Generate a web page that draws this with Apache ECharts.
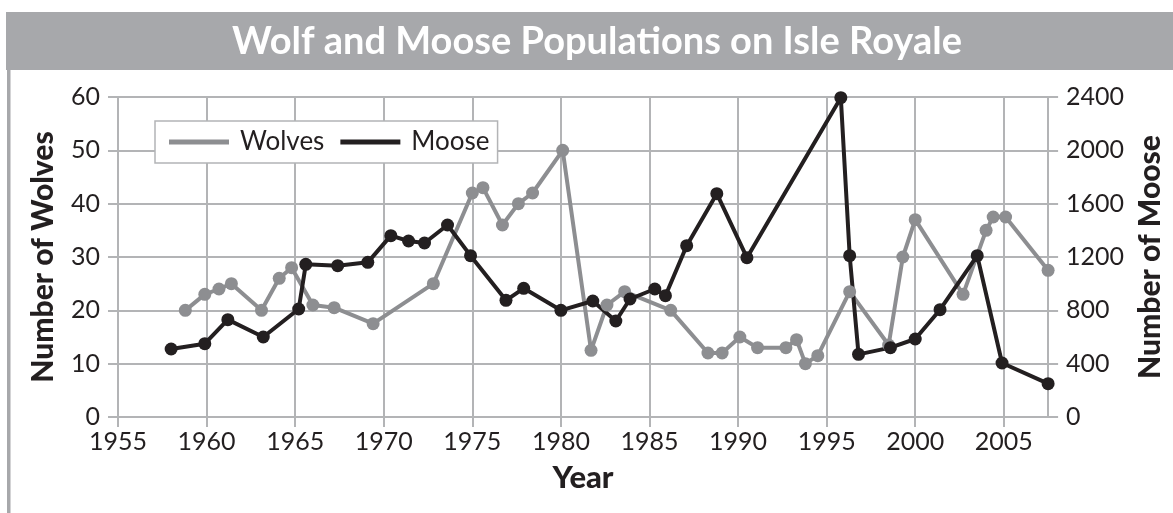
<!DOCTYPE html>
<html>
<head>
<meta charset="utf-8">
<script src="https://cdn.jsdelivr.net/npm/echarts@6/dist/echarts.min.js"></script>
<style>
  html, body { margin: 0; padding: 0; background: #fff; }
  #chart { width: 1173px; height: 513px; }
</style>
</head>
<body>
<div id="chart"></div>
<script>
// data
const wolfYears = [1958.8, 1959.9, 1960.7, 1961.4, 1963.1, 1964.1, 1964.8, 1966.0, 1967.2, 1969.4,
  1972.8, 1975.0, 1975.6, 1976.7, 1977.6, 1978.4, 1980.1, 1981.7, 1982.6, 1983.6,
  1986.2, 1988.3, 1989.1, 1990.1, 1991.1, 1992.7, 1993.3, 1993.8, 1994.5, 1996.3,
  1998.5, 1999.3, 2000.0, 2002.7, 2004.0, 2004.4, 2005.1, 2007.5]
const wolfCounts = [20, 23, 24, 25, 20, 26, 28, 21, 20.5, 17.5,
  25, 42, 43, 36, 40, 42, 50, 12.5, 21, 23.5,
  20, 12, 12, 15, 13, 13, 14.5, 10, 11.5, 23.5,
  13.5, 30, 37, 23, 35, 37.5, 37.5, 27.5]

const mooseYears = [1958.0, 1959.9, 1961.2, 1963.2, 1965.2, 1965.6, 1967.4, 1969.1, 1970.4, 1971.4,
  1972.3, 1973.6, 1974.9, 1976.9, 1977.9, 1980.0, 1981.8, 1983.1, 1983.9, 1985.3,
  1985.9, 1987.1, 1988.8, 1990.5, 1995.8, 1996.3, 1996.8, 1998.6, 2000.0, 2001.4,
  2003.5, 2004.9, 2007.5]
const mooseCounts = [510, 550, 730, 600, 810, 1145, 1135, 1160, 1360, 1320,
  1305, 1440, 1210, 875, 965, 800, 870, 720, 885, 960,
  910, 1285, 1675, 1195, 2395, 1210, 470, 520, 585, 805,
  1210, 405, 250]

const yearTicks = [1955, 1960, 1965, 1970, 1975, 1980, 1985, 1990, 1995, 2000, 2005]

const grey = '#8d8e91'
const dark = '#231f20'
const gridGrey = '#b3b4b6'
const barGrey = '#a7a8ab'
const font = 'Lato, "Open Sans", sans-serif'

const chart = echarts.init(document.getElementById('chart'), null, { renderer: 'canvas' })

const option = {
  animation: false,
  backgroundColor: '#fff',
  textStyle: { fontFamily: font, color: dark },
  graphic: [
    { type: 'rect', shape: { x: 6, y: 12, width: 1167, height: 58 }, style: { fill: barGrey } },
    { type: 'rect', shape: { x: 7, y: 70, width: 3.5, height: 443 }, style: { fill: barGrey } },
    {
      type: 'text', x: 597, y: 42,
      style: {
        text: 'Wolf and Moose Populations on Isle Royale',
        fill: '#fff', font: 'bold 38px ' + font,
        textAlign: 'center', textVerticalAlign: 'middle'
      }
    }
  ],
  legend: {
    left: 155,
    top: 121,
    padding: [8, 8, 8, 14],
    borderColor: gridGrey,
    borderWidth: 1.5,
    backgroundColor: '#fff',
    itemWidth: 60,
    itemHeight: 5,
    itemGap: 16,
    icon: 'rect',
    textStyle: { fontFamily: font, fontSize: 26, color: dark, padding: [0, 0, 0, 6] },
    data: ['Wolves', 'Moose']
  },
  grid: { left: 118, right: 124, top: 97, bottom: 96 },
  xAxis: {
    type: 'value',
    min: 1955,
    max: 2007.5,
    interval: 5,
    name: 'Year',
    nameLocation: 'middle',
    nameGap: 45,
    nameTextStyle: { fontFamily: font, fontSize: 31, fontWeight: 900, color: dark },
    axisLine: { lineStyle: { color: gridGrey, width: 2 } },
    axisTick: { length: 10, lineStyle: { color: gridGrey, width: 2 } },
    splitLine: { show: true, lineStyle: { color: gridGrey, width: 2 } },
    axisLabel: {
      fontFamily: font, fontSize: 25, color: dark, margin: 12,
      showMaxLabel: false,
      formatter: v => (yearTicks.indexOf(v) >= 0 ? String(v) : '')
    }
  },
  yAxis: [
    {
      type: 'value',
      min: 0, max: 60, interval: 10,
      position: 'left',
      name: 'Number of Wolves',
      nameLocation: 'middle',
      nameGap: 60,
      nameTextStyle: { fontFamily: font, fontSize: 30, fontWeight: 900, color: dark },
      axisLine: { show: true, lineStyle: { color: gridGrey, width: 2 } },
      axisTick: { show: true, length: 10, lineStyle: { color: gridGrey, width: 2 } },
      splitLine: { show: true, lineStyle: { color: gridGrey, width: 2 } },
      axisLabel: { fontFamily: font, fontSize: 25, color: dark, margin: 18 }
    },
    {
      type: 'value',
      min: 0, max: 2400, interval: 400,
      position: 'right',
      name: 'Number of Moose',
      nameLocation: 'middle',
      nameGap: 85,
      nameTextStyle: { fontFamily: font, fontSize: 30, fontWeight: 900, color: dark },
      axisLine: { show: true, lineStyle: { color: gridGrey, width: 2 } },
      axisTick: { show: true, length: 10, lineStyle: { color: gridGrey, width: 2 } },
      splitLine: { show: false },
      axisLabel: {
        fontFamily: font, fontSize: 25, color: dark, margin: 18,
        formatter: v => String(v)
      }
    }
  ],
  series: [
    {
      name: 'Wolves',
      type: 'line',
      yAxisIndex: 0,
      data: wolfYears.map((y, i) => [y, wolfCounts[i]]),
      symbol: 'circle',
      symbolSize: 13,
      color: grey,
      lineStyle: { color: grey, width: 4 },
      itemStyle: { color: grey }
    },
    {
      name: 'Moose',
      type: 'line',
      yAxisIndex: 1,
      data: mooseYears.map((y, i) => [y, mooseCounts[i]]),
      symbol: 'circle',
      symbolSize: 13,
      color: dark,
      lineStyle: { color: dark, width: 4 },
      itemStyle: { color: dark }
    }
  ]
}

chart.setOption(option)
</script>
</body>
</html>
